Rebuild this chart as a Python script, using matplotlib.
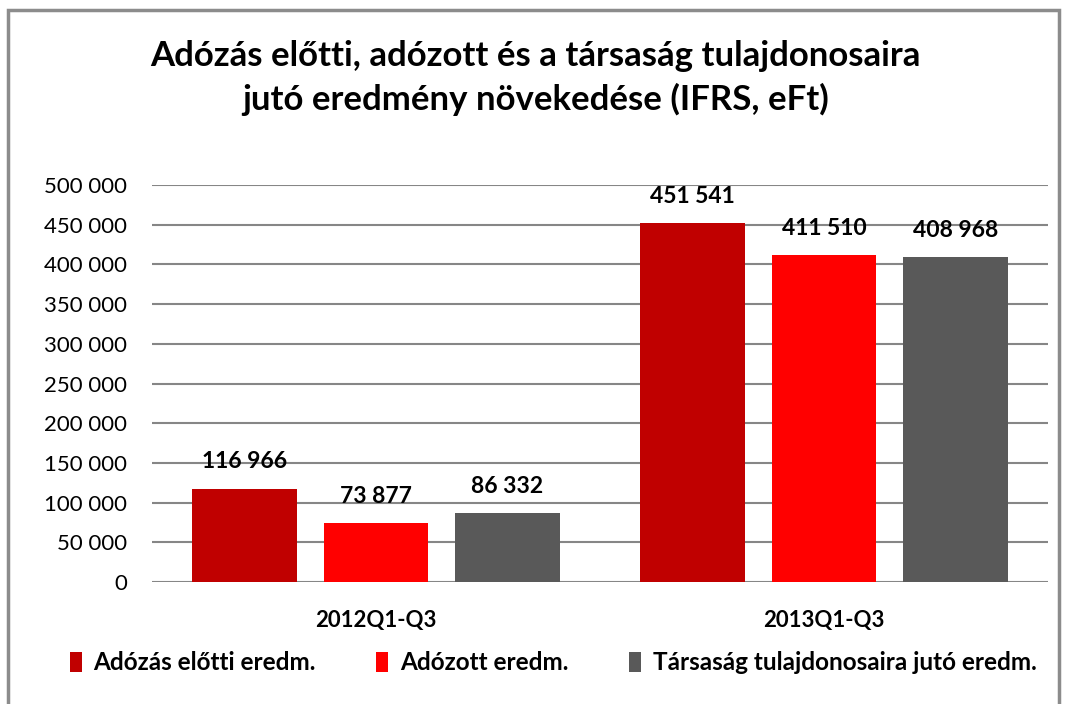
import numpy as np
import matplotlib.pyplot as plt
from matplotlib.patches import Rectangle
from matplotlib.ticker import FuncFormatter

# DATA

categories = ['2012Q1-Q3', '2013Q1-Q3']
series_names = ['Adózás előtti eredm.', 'Adózott eredm.',
                'Társaság tulajdonosaira jutó eredm.']
adozas_elotti = [116966, 451541]
adozott = [73877, 411510]
tulajdonosi = [86332, 408968]
colors = ['#C00000', '#FF0000', '#595959']
title = 'Adózás előtti, adózott és a társaság tulajdonosaira\njutó eredmény növekedése (IFRS, eFt)'

# FORMAT

def hu_fmt(v):
    return f'{int(round(v)):,}'.replace(',', ' ')

plt.rcParams['font.family'] = ['Lato', 'DejaVu Sans']

fig = plt.figure(figsize=(10.71, 7.04), dpi=100)
fig.patches.append(Rectangle((8 / 1071, -0.01), 1051 / 1071, 1 - 10 / 704 + 0.01,
                             transform=fig.transFigure, fill=False,
                             edgecolor='#8c8c8c', linewidth=2.5))

ax = fig.add_axes([152 / 1071, 1 - 582 / 704, 896 / 1071, 397 / 704])

x = np.arange(len(categories))
width = 0.234
offset = 0.293
all_series = [adozas_elotti, adozott, tulajdonosi]
bars = []
for i, vals in enumerate(all_series):
    b = ax.bar(x + (i - 1) * offset, vals, width, color=colors[i],
               label=series_names[i], zorder=3)
    bars.append(b)
    for xi, v in zip(x + (i - 1) * offset, vals):
        ax.annotate(hu_fmt(v), (xi, v), xytext=(0, 12), textcoords='offset points',
                    ha='center', va='bottom', fontsize=16.5, fontweight='bold')

ax.set_xlim(-0.5, 1.5)
ax.set_ylim(0, 500000)
ax.set_yticks(np.arange(0, 500001, 50000))
ax.yaxis.set_major_formatter(FuncFormatter(lambda v, p: hu_fmt(v)))
ax.set_xticks(x)
ax.set_xticklabels(categories, fontsize=16, fontweight='bold')
ax.tick_params(axis='y', length=0, labelsize=16, pad=18)
ax.tick_params(axis='x', length=0, pad=20)
ax.grid(axis='y', color='#868686', linewidth=1.5, zorder=0)
for s in ax.spines.values():
    s.set_visible(False)

fig.text(0.5, 1 - 78 / 704, title, ha='center', va='center',
         fontsize=25, fontweight='bold', linespacing=1.4)

leg = fig.legend(handles=bars, labels=series_names, loc='center',
                 bbox_to_anchor=(553 / 1071, 1 - 663 / 704), ncol=3, frameon=False,
                 handlelength=0.5, handleheight=0.9, handletextpad=0.47,
                 columnspacing=2.5, prop={'size': 17.5, 'weight': 'bold'})

fig.savefig('out.png', dpi=100)
